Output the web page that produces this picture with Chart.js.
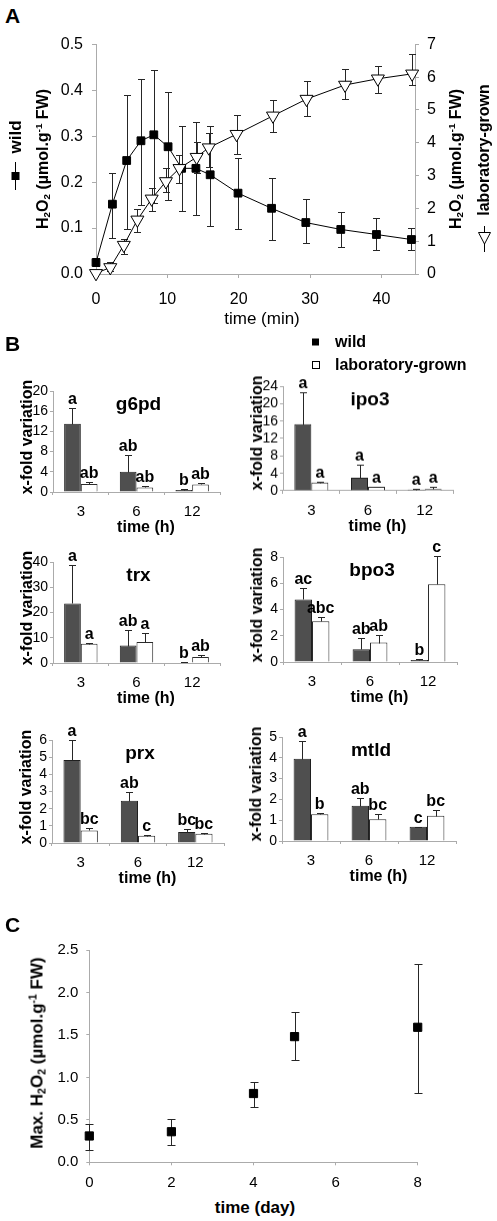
<!DOCTYPE html>
<html>
<head>
<meta charset="utf-8">
<title>H2O2 production and gene expression</title>
<script src="https://cdn.jsdelivr.net/npm/chart.js@4.4.1/dist/chart.umd.min.js"></script>
<style>
  body { margin: 0; background: #fff; }
  #fig { position: relative; width: 497px; height: 1221px; overflow: hidden;
         font-family: "Liberation Sans", Arial, sans-serif; color: #000; }
  #fig canvas, #fig svg { position: absolute; }
  .t { position: absolute; white-space: nowrap; line-height: 1; }
  .t sub, .t sup { font-size: 0.62em; line-height: 0; }
  .t sub { vertical-align: -0.25em; }
  .t sup { vertical-align: 0.6em; }
</style>
</head>
<body>
<div id="fig">
  <svg width="497" height="1221" style="left:0;top:0">
    <!-- legend keys for panel A (rotated legends) -->
    <line x1="15.5" y1="162" x2="15.5" y2="190" stroke="#000"/>
    <rect x="11.5" y="172" width="8" height="8" fill="#000"/>
    <line x1="484.5" y1="226" x2="484.5" y2="252" stroke="#000"/>
    <polygon points="478.5,232.5 490.5,232.5 484.5,244" fill="#fff" stroke="#000"/>
    <!-- legend keys for panel B -->
    <rect x="312" y="338.5" width="7" height="7" fill="#000"/>
    <rect x="312.5" y="361.5" width="7" height="7" fill="#fff" stroke="#000"/>
  </svg>
</div>
<script>
// --- panel A: H2O2 (µmol/g FW) vs time (min) ---
const wildMin  = [0, 2.3, 4.3, 6.3, 8.1, 10.1, 12, 14, 16, 19.9, 24.6, 29.4, 34.3, 39.3, 44.2];
const wildH2O2 = [0.025, 0.152, 0.247, 0.29, 0.303, 0.277, 0.23, 0.23, 0.216, 0.176, 0.143, 0.112, 0.097, 0.086, 0.075];
const wildHi   = [0.035, 0.22, 0.39, 0.424, 0.443, 0.397, 0.322, 0.33, 0.322, 0.252, 0.21, 0.163, 0.135, 0.122, 0.1];
const wildLo   = [0.018, 0.078, 0.097, 0.15, 0.155, 0.16, 0.137, 0.128, 0.105, 0.098, 0.073, 0.068, 0.058, 0.052, 0.052];
const labMin   = [0, 2, 3.9, 5.8, 7.8, 9.8, 11.7, 14.1, 15.8, 19.7, 24.8, 29.5, 34.9, 39.5, 44.3];
const labH2O2  = [0.02, 0.2, 0.88, 1.65, 2.29, 2.82, 3.22, 3.56, 3.85, 4.26, 4.82, 5.33, 5.76, 5.95, 6.1];
const labHi    = [0.02, 0.38, 1.07, 1.97, 2.63, 3.22, 3.63, 4.03, 4.31, 4.85, 5.3, 5.87, 6.25, 6.35, 6.71];
const labLo    = [0.02, 0.1, 0.61, 1.29, 1.92, 2.51, 2.78, 3.07, 3.27, 3.66, 4.34, 4.8, 5.34, 5.53, 5.76];

// --- panel B: x-fold variation at 3, 6, 12 h (bar value, upper error) ---
const hours = ['3', '6', '12'];
const g6pdWild = [13.5, 4.0, 0.4],   g6pdWildSd = [3.2, 3.3, 0.15];
const g6pdLab  = [1.6, 0.9, 1.5],    g6pdLabSd  = [0.3, 0.2, 0.2];
const ipo3Wild = [15.3, 3.0, 0.3],   ipo3WildSd = [7.2, 2.9, 0.1];
const ipo3Lab  = [1.9, 0.9, 0.4],    ipo3LabSd  = [0.2, 0.1, 0.5];
const trxWild  = [23.6, 6.9, 0.2],   trxWildSd  = [15.3, 6.2, 0.1];
const trxLab   = [7.6, 8.3, 2.4],    trxLabSd   = [0.4, 3.5, 0.6];
const bpo3Wild = [4.77, 0.98, 0.15], bpo3WildSd = [0.88, 0.82, 0.05];
const bpo3Lab  = [3.1, 1.48, 5.92],  bpo3LabSd  = [0.33, 0.56, 2.12];
const prxWild  = [4.84, 2.46, 0.64], prxWildSd  = [1.16, 0.54, 0.19];
const prxLab   = [0.73, 0.42, 0.54], prxLabSd   = [0.14, 0.06, 0.04];
const mtldWild = [3.96, 1.69, 0.68], mtldWildSd = [0.87, 0.38, 0];
const mtldLab  = [1.29, 1.05, 1.21], mtldLabSd  = [0.08, 0.27, 0.27];

// significance letters
const g6pdWildLet = ['a', 'ab', 'b'],  g6pdLabLet = ['ab', 'ab', 'ab'];
const ipo3WildLet = ['a', 'a', 'a'],   ipo3LabLet = ['a', 'a', 'a'];
const trxWildLet  = ['a', 'ab', 'b'],  trxLabLet  = ['a', 'a', 'ab'];
const bpo3WildLet = ['ac', 'ab', 'b'], bpo3LabLet = ['abc', 'ab', 'c'];
const prxWildLet  = ['a', 'ab', 'bc'], prxLabLet  = ['bc', 'c', 'bc'];
const mtldWildLet = ['a', 'ab', 'c'],  mtldLabLet = ['b', 'bc', 'bc'];

// --- panel C: max H2O2 vs time (day) ---
const dayTime   = [0, 2, 4, 5, 8];
const maxH2O2   = [0.31, 0.36, 0.81, 1.48, 1.59];
const maxH2O2Hi = [0.45, 0.51, 0.95, 1.77, 2.34];
const maxH2O2Lo = [0.15, 0.20, 0.65, 1.20, 0.82];

const FONT = '"Liberation Sans", Arial, sans-serif';
const AXIS = '#ababab';
Chart.defaults.font.family = FONT;
Chart.defaults.color = '#000';
const fig = document.getElementById('fig');
const H2O2_UNIT = 'H<sub>2</sub>O<sub>2</sub> (µmol.g<sup>-1</sup> FW)';

function addText(html, x, y, size, bold, rot, leftAnchored) {
  const d = document.createElement('div');
  d.className = 't';
  d.innerHTML = html;
  d.style.fontSize = size + 'px';
  d.style.fontWeight = bold ? 'bold' : 'normal';
  d.style.left = x + 'px';
  d.style.top = y + 'px';
  d.style.transform = (leftAnchored ? 'translate(0,-50%)' : 'translate(-50%,-50%)') +
    (rot ? ' rotate(' + rot + 'deg)' : '');
  fig.appendChild(d);
}

function makeCanvas(box) {
  const c = document.createElement('canvas');
  c.width = box.w; c.height = box.h;
  c.style.left = box.x + 'px'; c.style.top = box.y + 'px';
  c.style.width = box.w + 'px'; c.style.height = box.h + 'px';
  fig.appendChild(c);
  return c;
}

function axis(size, tickLen, pad, opts) {
  const ticks = Object.assign({ font: { size: size }, padding: pad, color: '#000', autoSkip: false },
    opts.ticks || {});
  return Object.assign({}, opts, {
    border: { color: AXIS },
    grid: { drawOnChartArea: false, tickLength: tickLen, color: AXIS },
    ticks: ticks
  });
}

// error bars (sd = upward only, hi/lo = both ways) + letters + panel title
function drawErrors(chart, cap) {
  const ctx = chart.ctx;
  ctx.save();
  ctx.strokeStyle = '#262626';
  ctx.lineWidth = 1;
  chart.data.datasets.forEach((ds, di) => {
    const meta = chart.getDatasetMeta(di);
    const ys = chart.scales[meta.yAxisID];
    meta.data.forEach((el, i) => {
      const v = typeof ds.data[i] === 'number' ? ds.data[i] : ds.data[i].y;
      const hi = ds.sd ? v + ds.sd[i] : ds.hi[i];
      const lo = ds.sd ? v : ds.lo[i];
      const x = Math.round(el.x) + 0.5;
      const yHi = Math.round(ys.getPixelForValue(hi)) + 0.5;
      const yLo = Math.round(ys.getPixelForValue(lo)) + 0.5;
      ctx.beginPath();
      ctx.moveTo(x, yHi); ctx.lineTo(x, yLo);
      ctx.moveTo(x - cap, yHi); ctx.lineTo(x + cap, yHi);
      if (!ds.sd) { ctx.moveTo(x - cap, yLo); ctx.lineTo(x + cap, yLo); }
      ctx.stroke();
      if (ds.letters) {
        ctx.font = 'bold 16px ' + FONT;
        ctx.fillStyle = '#000';
        ctx.textAlign = 'center';
        ctx.textBaseline = 'alphabetic';
        ctx.fillText(ds.letters[i], el.x, yHi - 5);
      }
    });
  });
  ctx.restore();
}

function marksPlugin(cfg) {
  return {
    id: 'marks',
    beforeDatasetsDraw(chart) { if (!cfg.onTop) drawErrors(chart, cfg.cap); },
    afterDatasetsDraw(chart) { if (cfg.onTop) drawErrors(chart, cfg.cap); },
    afterDraw(chart) {
      if (!cfg.title) return;
      const a = chart.chartArea, ctx = chart.ctx;
      ctx.save();
      ctx.font = 'bold 19px ' + FONT;
      ctx.fillStyle = '#000';
      ctx.textAlign = 'center';
      ctx.textBaseline = 'middle';
      ctx.fillText(cfg.title, (a.left + a.right) / 2 + 2, a.top + 14);
      ctx.restore();
    }
  };
}

const baseOpts = {
  responsive: false,
  animation: false,
  events: [],
  plugins: { legend: { display: false }, tooltip: { enabled: false } }
};

// ===== Panel A =====
(function () {
  const area = { l: 96, r: 415, t: 44.3, b: 274 };
  const box = { x: 40, y: 20, w: 415, h: 292 };
  new Chart(makeCanvas(box), {
    type: 'line',
    data: {
      datasets: [
        { label: 'laboratory-grown', yAxisID: 'y1', clip: false,
          data: labMin.map((x, i) => ({ x: x, y: labH2O2[i] })), hi: labHi, lo: labLo,
          borderColor: '#000', borderWidth: 1, pointStyle: 'triangle', pointRotation: 180,
          pointRadius: 7.5, pointBackgroundColor: '#fff', pointBorderColor: '#000', pointBorderWidth: 1 },
        { label: 'wild', yAxisID: 'y', clip: false,
          data: wildMin.map((x, i) => ({ x: x, y: wildH2O2[i] })), hi: wildHi, lo: wildLo,
          borderColor: '#000', borderWidth: 1, pointStyle: 'rect',
          pointRadius: 5.5, pointBackgroundColor: '#000', pointBorderColor: '#000', pointBorderWidth: 1 }
      ]
    },
    options: Object.assign({}, baseOpts, {
      layout: { padding: { top: area.t - box.y, right: 0, left: 0, bottom: 0 } },
      scales: {
        x: axis(16, 4, 12, { type: 'linear', min: 0, max: 44.7,
          ticks: { stepSize: 10, includeBounds: false },
          afterFit: s => { s.height = box.y + box.h - area.b; } }),
        y: axis(16, 4, 9, { position: 'left', min: 0, max: 0.5,
          ticks: { stepSize: 0.1, callback: v => v.toFixed(1) },
          afterFit: s => { s.width = area.l - box.x; } }),
        y1: axis(16, 4, 8, { position: 'right', min: 0, max: 7,
          ticks: { stepSize: 1 },
          afterFit: s => { s.width = box.x + box.w - area.r; } })
      }
    }),
    plugins: [marksPlugin({ cap: 3.5, onTop: false })]
  });
})();

// ===== Panel B =====
function geneChart(name, area, yMax, yStep, wild, wildSd, lab, labSd, wildLet, labLet) {
  const box = { x: area.l - 28, y: area.t - 24, w: area.r - area.l + 42, h: area.b - area.t + 56 };
  new Chart(makeCanvas(box), {
    type: 'bar',
    data: {
      labels: hours,
      datasets: [
        { label: 'wild', data: wild, sd: wildSd, letters: wildLet,
          backgroundColor: '#4f4f4f', borderColor: '#1f1f1f', borderWidth: 1 },
        { label: 'laboratory-grown', data: lab, sd: labSd, letters: labLet,
          backgroundColor: '#fff', borderColor: '#2b2b2b', borderWidth: 1 }
      ]
    },
    options: Object.assign({}, baseOpts, {
      datasets: { bar: { categoryPercentage: 0.6, barPercentage: 1 } },
      layout: { padding: { top: area.t - box.y, right: box.x + box.w - area.r, left: 0, bottom: 0 } },
      scales: {
        x: axis(15, 3, 8, { afterFit: s => { s.height = box.y + box.h - area.b; } }),
        y: axis(14, 3, 2, { min: 0, max: yMax, ticks: { stepSize: yStep },
          afterFit: s => { s.width = area.l - box.x; } })
      }
    }),
    plugins: [marksPlugin({ cap: 3.5, onTop: true, title: name })]
  });
  addText('x-fold variation', area.l - 26, (area.t + area.b) / 2 - 5, 16, true, -90);
  addText('time (h)', (area.l + area.r) / 2 + 9.5, area.b + 35, 16, true);
}

geneChart('g6pd', { l: 53, r: 220, t: 391, b: 492 }, 20, 4,
  g6pdWild, g6pdWildSd, g6pdLab, g6pdLabSd, g6pdWildLet, g6pdLabLet);
geneChart('ipo3', { l: 283, r: 453, t: 386, b: 490.7 }, 24, 4,
  ipo3Wild, ipo3WildSd, ipo3Lab, ipo3LabSd, ipo3WildLet, ipo3LabLet);
geneChart('trx', { l: 53, r: 220, t: 561.7, b: 663.3 }, 40, 10,
  trxWild, trxWildSd, trxLab, trxLabSd, trxWildLet, trxLabLet);
geneChart('bpo3', { l: 283, r: 457, t: 556.7, b: 662.3 }, 8, 2,
  bpo3Wild, bpo3WildSd, bpo3Lab, bpo3LabSd, bpo3WildLet, bpo3LabLet);
geneChart('prx', { l: 52, r: 224, t: 740, b: 843.3 }, 6, 1,
  prxWild, prxWildSd, prxLab, prxLabSd, prxWildLet, prxLabLet);
geneChart('mtld', { l: 282, r: 456, t: 736.7, b: 841 }, 5, 1,
  mtldWild, mtldWildSd, mtldLab, mtldLabSd, mtldWildLet, mtldLabLet);

// ===== Panel C =====
(function () {
  const area = { l: 89.3, r: 417.7, t: 950, b: 1162.3 };
  const box = { x: 40, y: 926, w: 395, h: 269 };
  new Chart(makeCanvas(box), {
    type: 'scatter',
    data: {
      datasets: [{ label: 'max H2O2', clip: false,
        data: dayTime.map((x, i) => ({ x: x, y: maxH2O2[i] })), hi: maxH2O2Hi, lo: maxH2O2Lo,
        pointStyle: 'rect', pointRadius: 5.8, pointBackgroundColor: '#000', pointBorderColor: '#000' }]
    },
    options: Object.assign({}, baseOpts, {
      layout: { padding: { top: area.t - box.y, right: box.x + box.w - area.r, left: 0, bottom: 0 } },
      scales: {
        x: axis(15, 3, 9, { type: 'linear', min: 0, max: 8, ticks: { stepSize: 2 },
          afterFit: s => { s.height = box.y + box.h - area.b; } }),
        y: axis(15, 3, 8, { min: 0, max: 2.5, ticks: { stepSize: 0.5, callback: v => v.toFixed(1) },
          afterFit: s => { s.width = area.l - box.x; } })
      }
    }),
    plugins: [marksPlugin({ cap: 4, onTop: false })]
  });
})();

// ===== labels outside the plot areas =====
addText('A', 12.5, 14.5, 21, true);
addText('B', 12.5, 342.5, 21, true);
addText('C', 12.5, 924, 21, true);
addText(H2O2_UNIT, 43, 158.5, 16, true, -90);
addText('wild', 15, 137, 17, true, -90);
addText(H2O2_UNIT, 455.5, 159, 16, true, -90);
addText('laboratory-grown', 484, 150, 16, true, -90);
addText('time (min)', 262, 318, 17, false);
addText('wild', 335, 342, 16, true, 0, true);
addText('laboratory-grown', 335, 365, 16, true, 0, true);
addText('Max. ' + H2O2_UNIT, 37, 1053, 17, true, -90);
addText('time (day)', 255, 1207, 17, true);
</script>
</body>
</html>
